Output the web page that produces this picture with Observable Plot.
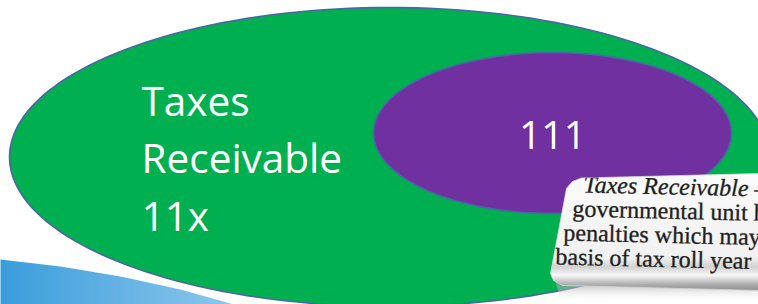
<!DOCTYPE html>
<html>
<head>
<meta charset="utf-8">
<script src="https://cdn.jsdelivr.net/npm/d3@7"></script>
<script src="https://cdn.jsdelivr.net/npm/@observablehq/plot@0.6"></script>
<style>
  html, body { margin: 0; padding: 0; background: #ffffff; }
  #chart svg { display: block; }
</style>
</head>
<body>
<div id="chart"></div>
<script>
// ---- content ----
const outerLabel = ["Taxes", "Receivable", "11x"];
const innerLabel = ["111"];
const excerptLines = ["Taxes Receivable –", "governmental unit h", "penalties which may", "basis of tax roll year ..."];

// ---- shape specs (diagram geometry) ----
const outerEllipse = {cx: 389, cy: 156.5, rx: 380, ry: 149.5};
const innerEllipse = {cx: 552, cy: 132.5, rx: 179, ry: 80.5};
const swooshX = [0, 60, 120, 180, 237, 0];
const swooshY = [259, 266, 276, 289, 305, 305];
const paperX = [572, 581, 760, 760, 562, 553, 550, 566];
const paperY = [181, 177.5, 173, 290, 285, 280, 273, 188];
const shadowX = [555, 760, 760, 560];
const shadowY = [282, 287, 302, 298];
const excerptX = [583, 572, 563, 555];
const excerptBase = [192, 216, 240, 264];
const labelBase = [115, 172.5, 230];

const W = 758, H = 304;

function ellipsePoints(e) {
  return d3.range(0, 360, 2).map(a => ({
    x: e.cx + e.rx * Math.cos(a * Math.PI / 180),
    y: e.cy + e.ry * Math.sin(a * Math.PI / 180)
  }));
}
const zipXY = (xs, ys) => xs.map((x, i) => ({x, y: ys[i]}));

const outerFs = 40.5, innerFs = 39, excerptFs = 24;

const svg = Plot.plot({
  width: W, height: H,
  marginTop: 0, marginRight: 0, marginBottom: 0, marginLeft: 0,
  x: {domain: [0, W], range: [0, W], axis: null},
  y: {domain: [0, H], range: [0, H], axis: null},
  style: {background: "#ffffff", overflow: "hidden"},
  marks: [
    Plot.line(zipXY(swooshX, swooshY), {x: "x", y: "y", curve: "linear-closed", fill: "url(#swooshGrad)", stroke: "none"}),
    Plot.line(ellipsePoints(outerEllipse), {x: "x", y: "y", curve: "linear-closed", fill: "#00b050", stroke: "#4a66a6", strokeWidth: 1.6}),
    Plot.line(ellipsePoints(innerEllipse), {x: "x", y: "y", curve: "linear-closed", fill: "#7030a0", stroke: "#4a66a6", strokeWidth: 1.6}),
    Plot.text(outerLabel, {
      x: () => 141, y: (d, i) => labelBase[i] - 0.32 * outerFs, text: d => d,
      textAnchor: "start", fill: "#ffffff", fontSize: outerFs, fontFamily: "Open Sans"
    }),
    Plot.text(innerLabel, {
      x: () => innerEllipse.cx, y: () => 148 - 0.32 * innerFs, text: d => d,
      textAnchor: "middle", fill: "#ffffff", fontSize: innerFs, fontFamily: "Open Sans"
    }),
    Plot.line(zipXY(shadowX, shadowY), {x: "x", y: "y", curve: "linear-closed", fill: "url(#shadowGrad)", stroke: "none"}),
    Plot.line(zipXY(paperX, paperY), {x: "x", y: "y", curve: "linear-closed", fill: "url(#paperGrad)", stroke: "#d8d8d8", strokeWidth: 0.8}),
    Plot.text(excerptLines, {
      x: (d, i) => excerptX[i], y: (d, i) => excerptBase[i] - 0.32 * excerptFs, text: d => d,
      textAnchor: "start", fill: "#1f1f1f", stroke: "#3a3a3a", strokeWidth: 0.35,
      fontSize: excerptFs, fontFamily: "Liberation Serif",
      rotate: 1.3
    })
  ]
});

const root = d3.select(svg);
const defs = root.insert("defs", ":first-child");
const sg = defs.append("linearGradient").attr("id", "swooshGrad").attr("x1", "0").attr("y1", "0").attr("x2", "1").attr("y2", "0");
sg.append("stop").attr("offset", "0").attr("stop-color", "#3a9ddb");
sg.append("stop").attr("offset", "1").attr("stop-color", "#8ec8ec");
const pg = defs.append("linearGradient").attr("id", "paperGrad").attr("x1", "0").attr("y1", "0").attr("x2", "0").attr("y2", "1");
[[0, "#fbfbfb"], [0.72, "#f1f1f1"], [0.8, "#d2d2d2"], [0.87, "#f7f7f7"], [0.94, "#b4b4b4"], [1, "#8c8c8c"]]
  .forEach(([o, c]) => pg.append("stop").attr("offset", o).attr("stop-color", c));
const shg = defs.append("linearGradient").attr("id", "shadowGrad").attr("x1", "0").attr("y1", "0").attr("x2", "0").attr("y2", "1");
shg.append("stop").attr("offset", "0").attr("stop-color", "#9a9a9a").attr("stop-opacity", 0.7);
shg.append("stop").attr("offset", "1").attr("stop-color", "#ffffff").attr("stop-opacity", 0);

// clip the excerpt text to the paper outline
let paperD = null;
svg.querySelectorAll("path").forEach(p => {
  const g = p.closest("[fill]");
  if ((p.getAttribute("fill") === "url(#paperGrad)") || (g && g.getAttribute("fill") === "url(#paperGrad)")) paperD = p.getAttribute("d");
});
if (paperD) {
  defs.append("clipPath").attr("id", "paperClip").append("path").attr("d", paperD);
  svg.querySelectorAll("g").forEach(g => {
    if (g.querySelector(":scope > text") && g.textContent.includes("governmental")) g.setAttribute("clip-path", "url(#paperClip)");
  });
}
svg.querySelectorAll("text").forEach(t => {
  if (t.textContent === excerptLines[0]) t.setAttribute("font-style", "italic");
});

document.getElementById("chart").appendChild(svg);
</script>
</body>
</html>
